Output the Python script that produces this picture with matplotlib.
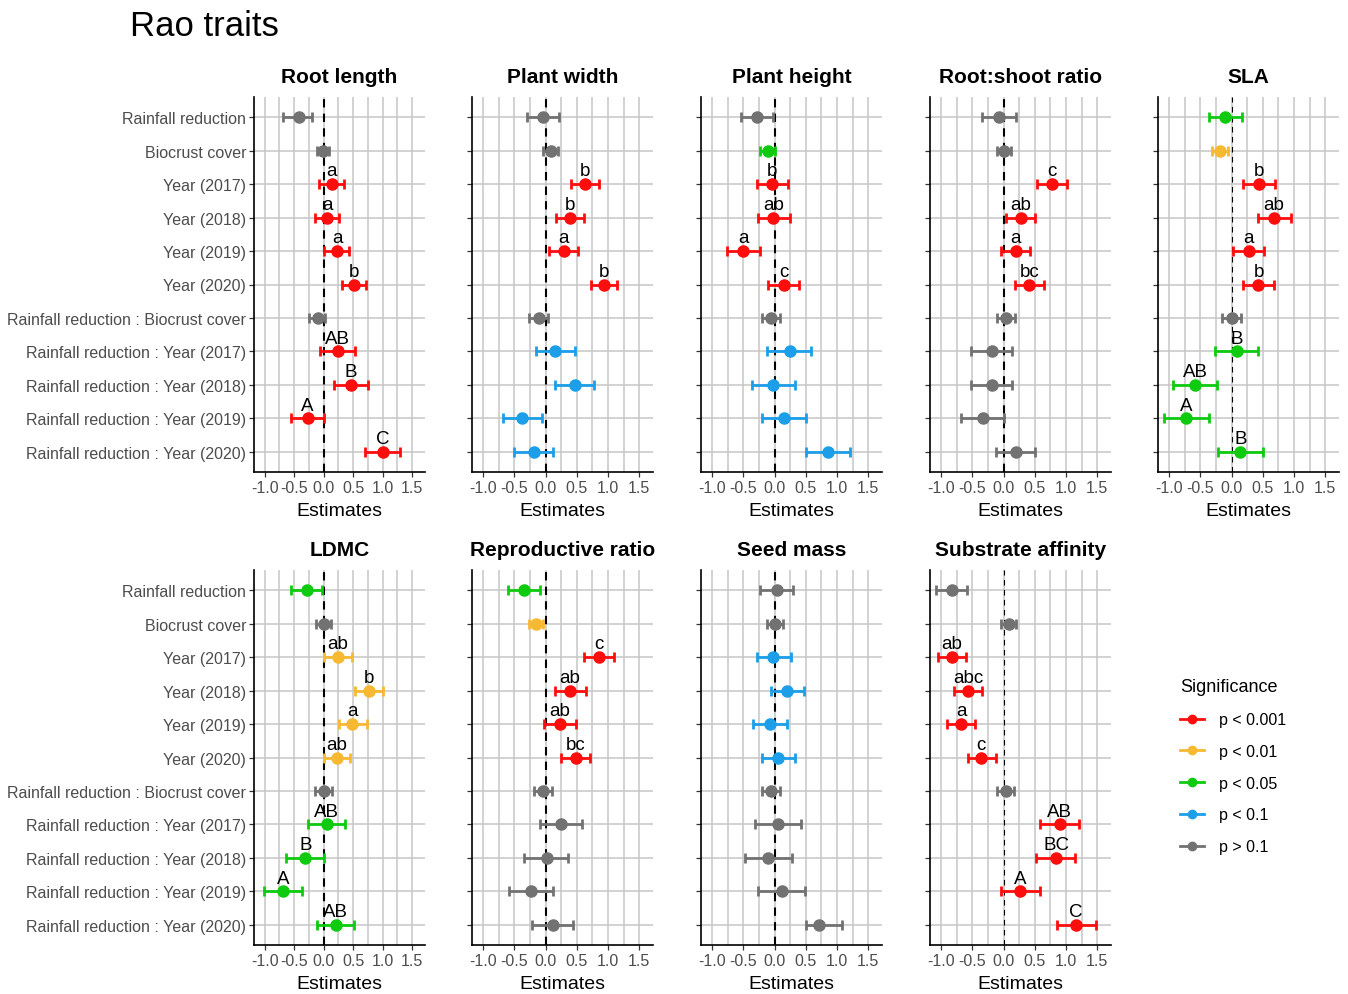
import matplotlib
matplotlib.use('Agg')
from matplotlib import pyplot as plt
from matplotlib.lines import Line2D
from matplotlib.ticker import MultipleLocator

plt.rcParams['font.family'] = ['Liberation Sans', 'DejaVu Sans']
plt.rcParams['axes.unicode_minus'] = False

W, H = 1348, 995

terms = ['Rainfall reduction', 'Biocrust cover', 'Year (2017)', 'Year (2018)',
         'Year (2019)', 'Year (2020)', 'Rainfall reduction : Biocrust cover',
         'Rainfall reduction : Year (2017)', 'Rainfall reduction : Year (2018)',
         'Rainfall reduction : Year (2019)', 'Rainfall reduction : Year (2020)']

sig_levels = ['p < 0.001', 'p < 0.01', 'p < 0.05', 'p < 0.1', 'p > 0.1']
sig_colors = ['#FF0D0D', '#F7B932', '#0FCB0F', '#1C9FE8', '#727272']

# estimates, 95% CI bounds, significance class (index into sig_levels), letters
root_length_est = [-0.42, -0.01, 0.14, 0.06, 0.23, 0.52, -0.10, 0.24, 0.46, -0.27, 1.00]
root_length_lo = [-0.68, -0.11, -0.07, -0.15, 0.01, 0.31, -0.24, -0.06, 0.17, -0.56, 0.71]
root_length_hi = [-0.19, 0.10, 0.35, 0.26, 0.43, 0.72, 0.03, 0.53, 0.75, 0.01, 1.29]
root_length_sig = [4, 4, 0, 0, 0, 0, 4, 0, 0, 0, 0]
root_length_lab = ['', '', 'a', 'a', 'a', 'b', '', 'AB', 'B', 'A', 'C']

plant_width_est = [-0.04, 0.08, 0.63, 0.39, 0.29, 0.94, -0.10, 0.15, 0.47, -0.38, -0.19]
plant_width_lo = [-0.30, -0.04, 0.41, 0.16, 0.06, 0.72, -0.26, -0.16, 0.15, -0.69, -0.50]
plant_width_hi = [0.22, 0.20, 0.85, 0.62, 0.52, 1.15, 0.04, 0.47, 0.78, -0.06, 0.12]
plant_width_sig = [4, 4, 0, 0, 0, 0, 4, 3, 3, 3, 3]
plant_width_lab = ['', '', 'b', 'b', 'a', 'b', '', '', '', '', '']

plant_height_est = [-0.29, -0.11, -0.04, -0.02, -0.50, 0.15, -0.06, 0.24, -0.02, 0.15, 0.85]
plant_height_lo = [-0.54, -0.23, -0.29, -0.27, -0.76, -0.10, -0.21, -0.12, -0.37, -0.21, 0.51]
plant_height_hi = [-0.02, 0.01, 0.21, 0.24, -0.24, 0.39, 0.09, 0.59, 0.32, 0.50, 1.20]
plant_height_sig = [4, 2, 0, 0, 0, 0, 4, 3, 3, 3, 3]
plant_height_lab = ['', '', 'b', 'ab', 'a', 'c', '', '', '', '', '']

root_shoot_est = [-0.08, 0.01, 0.78, 0.27, 0.19, 0.41, 0.03, -0.19, -0.19, -0.33, 0.20]
root_shoot_lo = [-0.35, -0.11, 0.54, 0.03, -0.05, 0.18, -0.11, -0.52, -0.52, -0.68, -0.13]
root_shoot_hi = [0.19, 0.12, 1.02, 0.51, 0.43, 0.64, 0.18, 0.14, 0.14, 0.00, 0.51]
root_shoot_sig = [4, 4, 0, 0, 0, 0, 4, 4, 4, 4, 4]
root_shoot_lab = ['', '', 'c', 'ab', 'a', 'bc', '', '', '', '', '']

sla_est = [-0.10, -0.19, 0.44, 0.68, 0.27, 0.43, 0.00, 0.08, -0.58, -0.73, 0.14]
sla_lo = [-0.37, -0.31, 0.18, 0.43, 0.02, 0.18, -0.15, -0.26, -0.94, -1.08, -0.22]
sla_hi = [0.16, -0.06, 0.70, 0.95, 0.52, 0.68, 0.15, 0.43, -0.23, -0.37, 0.50]
sla_sig = [2, 1, 0, 0, 0, 0, 4, 2, 2, 2, 2]
sla_lab = ['', '', 'b', 'ab', 'a', 'b', '', 'B', 'AB', 'A', 'B']

ldmc_est = [-0.28, 0.00, 0.24, 0.77, 0.49, 0.23, 0.00, 0.05, -0.31, -0.68, 0.21]
ldmc_lo = [-0.55, -0.13, 0.01, 0.53, 0.26, 0.00, -0.14, -0.27, -0.64, -1.01, -0.11]
ldmc_hi = [-0.02, 0.13, 0.48, 1.01, 0.73, 0.45, 0.14, 0.37, 0.00, -0.36, 0.52]
ldmc_sig = [2, 4, 1, 1, 1, 1, 4, 2, 2, 2, 2]
ldmc_lab = ['', '', 'ab', 'b', 'a', 'ab', '', 'AB', 'B', 'A', 'AB']

repro_est = [-0.35, -0.16, 0.85, 0.39, 0.23, 0.48, -0.04, 0.24, 0.02, -0.23, 0.11]
repro_lo = [-0.61, -0.27, 0.61, 0.15, -0.02, 0.24, -0.19, -0.09, -0.34, -0.59, -0.22]
repro_hi = [-0.09, -0.04, 1.10, 0.64, 0.48, 0.71, 0.10, 0.58, 0.36, 0.12, 0.44]
repro_sig = [2, 1, 0, 0, 0, 0, 4, 4, 4, 4, 4]
repro_lab = ['', '', 'c', 'ab', 'ab', 'bc', '', '', '', '', '']

seed_mass_est = [0.04, 0.01, -0.02, 0.20, -0.07, 0.06, -0.06, 0.06, -0.10, 0.12, 0.71]
seed_mass_lo = [-0.24, -0.12, -0.29, -0.06, -0.35, -0.20, -0.21, -0.32, -0.48, -0.27, 0.50]
seed_mass_hi = [0.30, 0.13, 0.26, 0.47, 0.20, 0.32, 0.09, 0.43, 0.28, 0.49, 1.08]
seed_mass_sig = [4, 4, 3, 3, 3, 3, 4, 4, 4, 4, 4]
seed_mass_lab = ['', '', '', '', '', '', '', '', '', '', '']

substrate_est = [-0.83, 0.08, -0.83, -0.57, -0.68, -0.36, 0.03, 0.90, 0.84, 0.26, 1.16]
substrate_lo = [-1.08, -0.04, -1.05, -0.79, -0.90, -0.57, -0.11, 0.59, 0.52, -0.04, 0.85]
substrate_hi = [-0.58, 0.20, -0.60, -0.34, -0.46, -0.13, 0.17, 1.20, 1.15, 0.58, 1.48]
substrate_sig = [4, 4, 0, 0, 0, 0, 4, 0, 0, 0, 0]
substrate_lab = ['', '', 'ab', 'abc', 'a', 'c', '', 'AB', 'BC', 'A', 'C']

# title, data, pixel box (left, top, right, bottom), thin zero line
panels = [
    ('Root length', root_length_est, root_length_lo, root_length_hi, root_length_sig, root_length_lab,
     (254, 98, 425, 473), False),
    ('Plant width', plant_width_est, plant_width_lo, plant_width_hi, plant_width_sig, plant_width_lab,
     (472, 98, 653, 473), False),
    ('Plant height', plant_height_est, plant_height_lo, plant_height_hi, plant_height_sig, plant_height_lab,
     (701, 98, 882, 473), False),
    ('Root:shoot ratio', root_shoot_est, root_shoot_lo, root_shoot_hi, root_shoot_sig, root_shoot_lab,
     (930, 98, 1111, 473), False),
    ('SLA', sla_est, sla_lo, sla_hi, sla_sig, sla_lab,
     (1158, 98, 1339, 473), True),
    ('LDMC', ldmc_est, ldmc_lo, ldmc_hi, ldmc_sig, ldmc_lab,
     (254, 571, 425, 946), False),
    ('Reproductive ratio', repro_est, repro_lo, repro_hi, repro_sig, repro_lab,
     (472, 571, 653, 946), False),
    ('Seed mass', seed_mass_est, seed_mass_lo, seed_mass_hi, seed_mass_sig, seed_mass_lab,
     (701, 571, 882, 946), False),
    ('Substrate affinity', substrate_est, substrate_lo, substrate_hi, substrate_sig, substrate_lab,
     (930, 571, 1111, 946), True),
]

fig = plt.figure(figsize=(W / 100, H / 100), dpi=100)
fig.text(130 / W, 1 - 26 / H, 'Rao traits', fontsize=25, ha='left', va='center')

ypos = list(range(1, len(terms) + 1))

for i, (title, est, lo, hi, sig, lab, box, thin) in enumerate(panels):
    left, top, right, bottom = box
    ax = fig.add_axes([left / W, 1 - bottom / H, (right - left) / W, (bottom - top) / H])
    ax.set_xlim(-1.18, 1.72)
    ax.set_ylim(len(terms) + 0.6, 0.4)
    ax.xaxis.set_major_locator(MultipleLocator(0.5))
    ax.xaxis.set_minor_locator(MultipleLocator(0.25))
    ax.set_yticks(ypos)
    ax.grid(True, which='major', axis='both', color='#C6C6C6', lw=1.1, zorder=0)
    ax.grid(True, which='minor', axis='x', color='#C6C6C6', lw=1.1, zorder=0)
    ax.set_axisbelow(True)
    for s in ['top', 'right']:
        ax.spines[s].set_visible(False)
    for s in ['left', 'bottom']:
        ax.spines[s].set_linewidth(1.2)
        ax.spines[s].set_color('black')
    ax.tick_params(axis='both', which='major', length=3.5, width=0.9, color='#333333',
                   labelcolor='#4D4D4D', labelsize=11.5, pad=2)
    ax.tick_params(axis='x', which='minor', length=0)
    ax.set_xticklabels(['%.1f' % t for t in ax.get_xticks()])
    if left < 300:
        ax.set_yticklabels(terms)
    else:
        ax.set_yticklabels([])

    if thin:
        ax.axvline(0, color='black', lw=0.8, ls=(0, (5, 4)), zorder=1)
    else:
        ax.axvline(0, color='black', lw=1.5, ls=(0, (4, 3)), zorder=1)

    for y, e, l, h, s, t in zip(ypos, est, lo, hi, sig, lab):
        c = sig_colors[s]
        ax.errorbar(e, y, xerr=[[e - l], [h - e]], fmt='o', color=c, ms=8, lw=2,
                    capsize=3.5, capthick=2, zorder=3)
        if t:
            ax.text(e, y - 0.26, t, fontsize=13.5, ha='center', va='baseline', color='black', zorder=4)

    ax.set_title(title, fontsize=15, fontweight='bold', pad=11)
    ax.set_xlabel('Estimates', fontsize=14, labelpad=5)

handles = [Line2D([0], [0], color=c, lw=2, marker='o', ms=6) for c in sig_colors]
fig.legend(handles, sig_levels, loc='upper left', bbox_to_anchor=(1166 / W, 1 - 665 / H),
           frameon=False, title='Significance', title_fontsize=13, fontsize=11.5,
           alignment='left', labelspacing=1.05, handlelength=1.5, handletextpad=0.9)

fig.savefig('out.png', dpi=100)
